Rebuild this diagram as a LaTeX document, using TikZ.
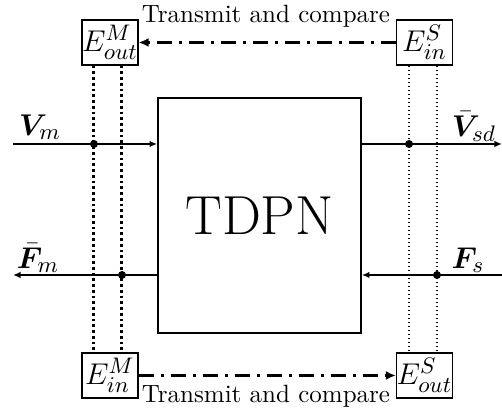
\documentclass[tikz,border=0pt]{standalone}
\usepackage{amsmath,bm}
\usetikzlibrary{arrows.meta}
\begin{document}
\begin{tikzpicture}[x=0.4pt,y=-0.4pt,
  mainline/.style={line width=0.8pt},
  sig/.style={mainline,-{Latex[length=3pt,width=2.6pt]}},
  ebox/.style={draw,line width=0.5pt,minimum width=22.4pt,minimum height=18pt,inner sep=0pt,font=\fontsize{13}{15}\selectfont},
  dot/.style={circle,fill,inner sep=0pt,minimum size=3.2pt},
  thickdots/.style={line width=1.2pt,dash pattern=on 1.1pt off 1.2pt},
  thindots/.style={line width=0.7pt,dash pattern=on 0.7pt off 0.9pt},
  link/.style={line width=1.1pt,dash pattern=on 6pt off 2.8pt on 1.2pt off 2.8pt,-{Latex[length=4pt,width=3.6pt]}},
  lbl/.style={font=\normalsize},
  siglbl/.style={font=\fontsize{12.5}{15}\selectfont}]
\useasboundingbox (0,0) rectangle (502,410);

% central block
\node[draw,line width=0.7pt,minimum width=81.2pt,minimum height=94pt,inner sep=0pt,
  font=\fontsize{22}{25}\selectfont] (tdpn) at (259.5,215.5) {TDPN};

% exchange boxes
\node[ebox] (eoutM) at (110,42.5) {$E^M_{out}$};
\node[ebox] (einS)  at (424.5,42.5) {$E^S_{in}$};
\node[ebox] (einM)  at (110,375.5) {$E^M_{in}$};
\node[ebox] (eoutS) at (424.5,375.5) {$E^S_{out}$};

% free ends of the signal arrows
\coordinate (vmL) at (13,144);
\coordinate (vsdR) at (502,144);
\coordinate (fmL) at (13,275);
\coordinate (fsR) at (502,275);

% tap points
\node[dot] (tapVm) at (94,144) {};
\node[dot] (tapFm) at (122,275) {};
\node[dot] (tapVs) at (409,144) {};
\node[dot] (tapFs) at (437,275) {};

% signals
\draw[sig] (vmL) -- (tdpn.west |- vmL);
\draw[sig] (tdpn.east |- vsdR) -- (vsdR);
\draw[sig] (tdpn.west |- fmL) -- (fmL);
\draw[sig] (fsR) -- (tdpn.east |- fsR);

% vertical taps
\draw[thickdots] (eoutM.south -| tapVm) -- (einM.north -| tapVm);
\draw[thickdots] (eoutM.south -| tapFm) -- (einM.north -| tapFm);
\draw[thindots] (einS.south -| tapVs) -- (eoutS.north -| tapVs);
\draw[thindots] (einS.south -| tapFs) -- (eoutS.north -| tapFs);

% transmit links
\draw[link] (einS.west) -- (eoutM.east);
\draw[link] (einM.east) -- (eoutS.west);
\node[lbl] (ttop) at (266,16) {Transmit and compare};
\node[lbl] (tbot) at (266,396) {Transmit and compare};

% signal labels
\node[siglbl] (lVm) at (40,127) {$\bm{V}_m$};
\node[siglbl] (lVsd) at (474,127) {$\bar{\bm{V}}_{sd}$};
\node[siglbl] (lFm) at (38,258) {$\bar{\bm{F}}_m$};
\node[siglbl] (lFs) at (468,260) {$\bm{F}_s$};
\end{tikzpicture}
\end{document}
